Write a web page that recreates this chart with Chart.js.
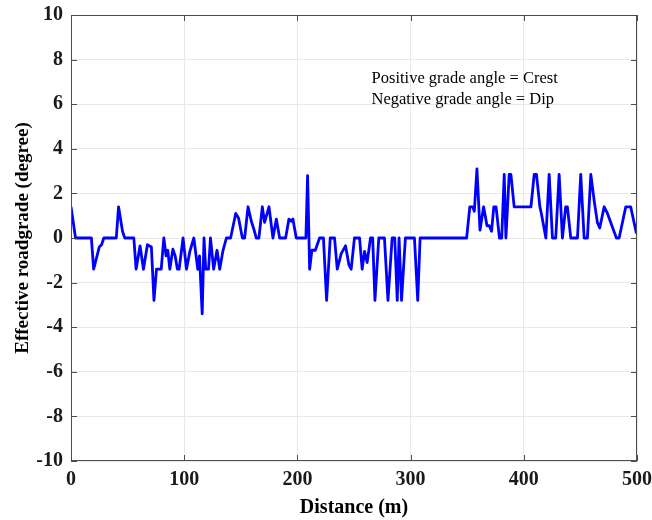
<!DOCTYPE html>
<html>
<head>
<meta charset="utf-8">
<script src="https://cdn.jsdelivr.net/npm/chart.js@4.4.1/dist/chart.umd.min.js"></script>
<style>
    body { margin: 0; background: #fff; }
    #wrap { width: 652px; height: 520px; position: relative; }
</style>
</head>
<body>
<div id="wrap"><canvas id="grade-chart"></canvas></div>
<script>
// distance along the road (m) and the effective road grade (degree)
const distances = [
    0, 4, 18, 20, 25, 27, 29, 40, 42, 45.5, 47.5, 55.5, 57.5, 61, 64, 67.5, 71, 73.3, 75.5, 79.7,
    82, 84, 85.5, 87.3, 90, 92, 94, 95.5, 99, 102, 105, 108.5, 112, 113.5, 115.9, 117.5, 119, 121.5, 123.2, 126,
    129, 131.4, 134.3, 137.3, 141, 145.5, 148, 151.4, 153.4, 156.4, 159.3, 161.5, 163.7, 166, 169, 171, 174.9, 178.4, 181.4, 184.3,
    189.6, 192.5, 194.5, 196, 199, 207.5, 209, 210.8, 212.8, 215.8, 219.6, 223, 225.8, 229, 232.8, 235.2, 238.7, 242.5, 245.5, 247.5,
    250.4, 254.9, 257.2, 259.3, 261.6, 264.6, 266.5, 268.5, 271.9, 276.9, 280, 283.7, 286, 288.2, 289.8, 292, 295.4, 303.4, 306.3, 308.4,
    349.5, 352.3, 354.8, 356.3, 358.6, 361.3, 364.5, 367.5, 369.5, 371.5, 373.5, 375.5, 378.5, 380.5, 382.7, 384.2, 387.1, 388.6, 391.5, 406.3,
    409.2, 411.2, 414.2, 415.5, 419.5, 422.4, 425.3, 428.2, 431.2, 434.1, 437, 438.5, 441.5, 447.4, 450.3, 453.3, 456.2, 459.2, 462.1, 465,
    467.1, 471, 473.9, 481.8, 484.2, 490.1, 494.4, 499.5
];
const grades = [
    1.4, 0, 0, -1.4, -0.4, -0.3, 0, 0, 1.4, 0.3, 0, 0, -1.4, -0.35, -1.4, -0.3, -0.4, -2.8, -1.4, -1.4,
    0, -0.8, -0.55, -1.4, -0.5, -0.8, -1.4, -1.4, 0, -1.4, -0.6, 0, -1.4, -0.8, -3.4, 0, -1.4, -1.4, 0, -1.4,
    -0.55, -1.4, -0.55, 0, 0, 1.1, 0.9, 0, 0, 1.4, 0.75, 0.4, 0, 0, 1.4, 0.7, 1.4, 0, 0.85, 0,
    0, 0.85, 0.75, 0.85, 0, 0, 2.8, -1.4, -0.55, -0.55, 0, 0, -2.8, 0, 0, -1.4, -0.7, -0.35, -1.2, -1.4,
    0, 0, -1.4, -0.6, -1.1, 0, 0, -2.8, 0, 0, -2.8, 0, 0, -2.8, 0, -2.8, 0, 0, -2.8, 0,
    0, 1.4, 1.4, 1.2, 3.1, 0.35, 1.4, 0.55, 0.55, 0.3, 1.4, 1.4, 0, 0, 2.85, 0, 2.85, 2.85, 1.4, 1.4,
    2.85, 2.85, 1.4, 1.1, 0, 2.85, 0, 0, 2.85, 0, 1.4, 1.4, 0, 0, 2.85, 0, 0, 2.85, 1.7, 0.7,
    0.45, 1.4, 1.1, 0, 0, 1.4, 1.4, 0.2
];
const xTicks = [0, 100, 200, 300, 400, 500];
const yTicks = [-10, -8, -6, -4, -2, 0, 2, 4, 6, 8, 10];
const noteLines = ["Positive grade angle = Crest", "Negative grade angle = Dip"];

const axisColor = "#4d4d4d";
const serif = "'Liberation Serif', 'Times New Roman', serif";

// box round the plot, inward ticks and the note text
const boxPlugin = {
    id: "box",
    afterDraw(chart) {
        const { ctx, chartArea: a, scales } = chart;
        ctx.save();
        ctx.strokeStyle = axisColor;
        ctx.lineWidth = 1;
        ctx.strokeRect(a.left + 0.5, a.top + 0.5, a.right - a.left - 1, a.bottom - a.top - 1);

        ctx.beginPath();
        xTicks.forEach((t) => {
            const px = Math.round(scales.x.getPixelForValue(t)) + 0.5;
            ctx.moveTo(px, a.bottom); ctx.lineTo(px, a.bottom - 6);
            ctx.moveTo(px, a.top); ctx.lineTo(px, a.top + 6);
        });
        yTicks.forEach((t) => {
            const py = Math.round(scales.y.getPixelForValue(t)) + 0.5;
            ctx.moveTo(a.left, py); ctx.lineTo(a.left + 6, py);
            ctx.moveTo(a.right, py); ctx.lineTo(a.right - 6, py);
        });
        ctx.stroke();

        ctx.fillStyle = "#000";
        ctx.font = "16.5px " + serif;
        ctx.textAlign = "left";
        ctx.textBaseline = "middle";
        const nx = scales.x.getPixelForValue(265.5);
        ctx.fillText(noteLines[0], nx, scales.y.getPixelForValue(7.15));
        ctx.fillText(noteLines[1], nx, scales.y.getPixelForValue(6.2));
        ctx.restore();
    },
};

function createGradeChart() {
    const ctx = document.getElementById("grade-chart").getContext("2d");
    const points = distances.map((d, i) => ({ x: d, y: grades[i] }));

    new Chart(ctx, {
        type: "line",
        data: {
            datasets: [
                {
                    data: points,
                    borderColor: "#0000ff",
                    borderWidth: 2.8,
                    borderJoinStyle: "round",
                    pointRadius: 0,
                    tension: 0,
                    fill: false,
                },
            ],
        },
        options: {
            responsive: true,
            maintainAspectRatio: false,
            animation: false,
            layout: { padding: { top: 15, right: 15, left: 0, bottom: 0 } },
            plugins: {
                legend: { display: false },
                tooltip: { enabled: false },
            },
            scales: {
                x: {
                    type: "linear",
                    min: 0,
                    max: 500,
                    afterBuildTicks: (scale) => {
                        scale.ticks = xTicks.map((v) => ({ value: v }));
                    },
                    afterFit: (scale) => {
                        scale.height = 59;
                        scale.paddingLeft = 0;
                        scale.paddingRight = 0;
                    },
                    grid: { color: "#e8e8e8", drawTicks: false },
                    border: { display: false },
                    ticks: {
                        padding: 7,
                        color: "#1a1a1a",
                        font: { family: serif, size: 20, weight: "bold" },
                    },
                    title: {
                        display: true,
                        text: "Distance (m)",
                        color: "#000",
                        padding: { top: 0, bottom: 0 },
                        font: { family: serif, size: 20, weight: "bold" },
                    },
                },
                y: {
                    min: -10,
                    max: 10,
                    afterBuildTicks: (scale) => {
                        scale.ticks = yTicks.map((v) => ({ value: v }));
                    },
                    afterFit: (scale) => {
                        scale.width = 71;
                        scale.paddingTop = 0;
                        scale.paddingBottom = 0;
                    },
                    grid: { color: "#e8e8e8", drawTicks: false },
                    border: { display: false },
                    ticks: {
                        padding: 8,
                        color: "#1a1a1a",
                        font: { family: serif, size: 20, weight: "bold" },
                    },
                    title: {
                        display: true,
                        text: "Effective roadgrade (degree)",
                        color: "#000",
                        padding: { top: 12, bottom: 0 },
                        font: { family: serif, size: 19, weight: "bold" },
                    },
                },
            },
        },
        plugins: [boxPlugin],
    });
}

createGradeChart();
</script>
</body>
</html>
